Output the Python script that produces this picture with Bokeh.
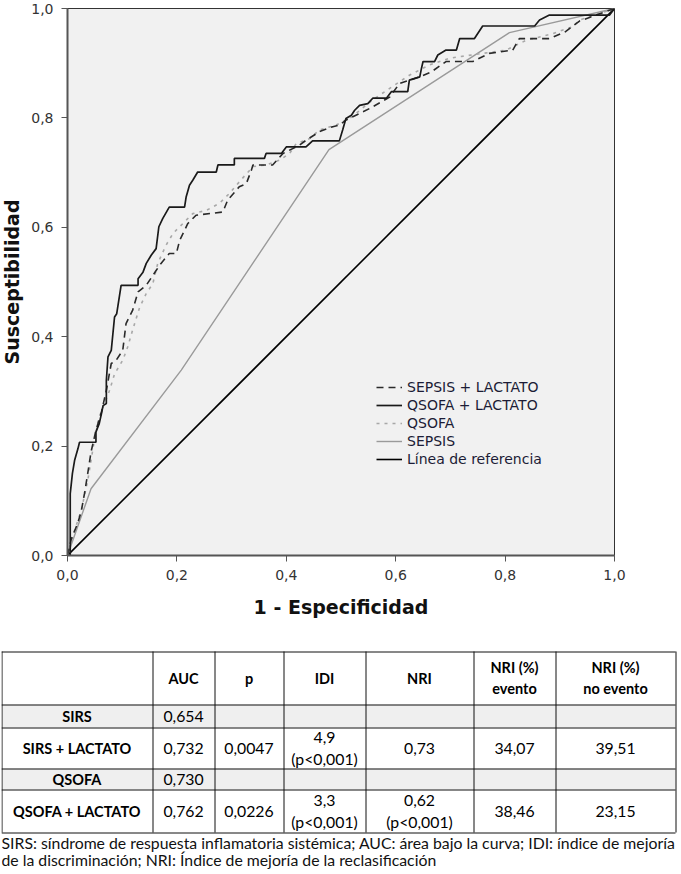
from bokeh.plotting import figure
from bokeh.models import Range1d, FixedTicker, CustomJSTickFormatter, Legend, LegendItem
from bokeh.embed import file_html
from bokeh.resources import INLINE
from bokeh.core.properties import value

# ---------------- ROC data (1 - especificidad, susceptibilidad) ----------------
qsofa_lact_x = [0, 0.005, 0.005, 0.009, 0.013, 0.019, 0.022, 0.052, 0.052, 0.058, 0.062, 0.065, 0.071, 0.071,
                0.074, 0.08, 0.086, 0.09, 0.098, 0.129, 0.129, 0.138, 0.144, 0.153, 0.162, 0.167, 0.174, 0.186,
                0.214, 0.217, 0.223, 0.229, 0.238, 0.272, 0.275, 0.305, 0.305, 0.36, 0.363, 0.391, 0.4, 0.436,
                0.448, 0.497, 0.503, 0.509, 0.519, 0.525, 0.534, 0.549, 0.558, 0.583, 0.592, 0.622, 0.625, 0.644,
                0.647, 0.65, 0.671, 0.677, 0.692, 0.711, 0.717, 0.744, 0.759, 0.854, 0.863, 0.881, 0.991, 1.0]
qsofa_lact_y = [0, 0, 0.113, 0.15, 0.174, 0.195, 0.207, 0.207, 0.226, 0.241, 0.259, 0.274, 0.278, 0.32,
                0.363, 0.375, 0.436, 0.442, 0.494, 0.494, 0.506, 0.518, 0.534, 0.549, 0.561, 0.601, 0.616, 0.637,
                0.637, 0.656, 0.677, 0.686, 0.701, 0.701, 0.714, 0.714, 0.726, 0.726, 0.735, 0.735, 0.747, 0.747,
                0.758, 0.758, 0.778, 0.799, 0.805, 0.814, 0.823, 0.826, 0.836, 0.836, 0.848, 0.848, 0.869, 0.875,
                0.89, 0.903, 0.903, 0.915, 0.924, 0.924, 0.945, 0.945, 0.968, 0.968, 0.979, 0.988, 0.988, 1.0]

sepsis_lact_x = [0, 0.007, 0.019, 0.025, 0.031, 0.037, 0.043, 0.052, 0.062, 0.071, 0.08, 0.089, 0.101, 0.107,
                 0.119, 0.129, 0.144, 0.162, 0.171, 0.186, 0.199, 0.205, 0.22, 0.235, 0.284, 0.293, 0.314, 0.327,
                 0.336, 0.339, 0.375, 0.394, 0.424, 0.436, 0.461, 0.485, 0.497, 0.509, 0.552, 0.589, 0.607, 0.644,
                 0.665, 0.692, 0.741, 0.771, 0.814, 0.826, 0.881, 0.911, 0.936, 1.0]
sepsis_lact_y = [0, 0.03, 0.06, 0.08, 0.113, 0.15, 0.189, 0.229, 0.262, 0.302, 0.351, 0.357, 0.375, 0.424,
                 0.448, 0.482, 0.494, 0.521, 0.534, 0.552, 0.552, 0.576, 0.607, 0.622, 0.628, 0.65, 0.674, 0.68,
                 0.704, 0.714, 0.714, 0.735, 0.75, 0.759, 0.775, 0.784, 0.787, 0.796, 0.817, 0.838, 0.863, 0.875,
                 0.884, 0.903, 0.903, 0.918, 0.924, 0.945, 0.945, 0.958, 0.977, 1.0]

qsofa_x = [0, 0.007, 0.016, 0.025, 0.037, 0.049, 0.058, 0.077, 0.086, 0.101, 0.11, 0.119, 0.132, 0.144, 0.156,
           0.165, 0.18, 0.193, 0.205, 0.229, 0.254, 0.278, 0.296, 0.314, 0.339, 0.363, 0.388, 0.406, 0.418,
           0.442, 0.461, 0.491, 0.516, 0.558, 0.589, 0.625, 0.662, 0.698, 0.759, 0.802, 0.839, 0.887, 0.924,
           0.936, 1.0]
qsofa_y = [0, 0.028, 0.055, 0.082, 0.137, 0.21, 0.253, 0.302, 0.332, 0.357, 0.381, 0.412, 0.454, 0.479, 0.497,
           0.534, 0.567, 0.589, 0.601, 0.625, 0.631, 0.644, 0.662, 0.683, 0.711, 0.714, 0.723, 0.735, 0.753,
           0.762, 0.778, 0.787, 0.799, 0.833, 0.854, 0.878, 0.897, 0.909, 0.918, 0.924, 0.942, 0.954, 0.967,
           0.979, 1.0]

sepsis_x = [0, 0.043, 0.208, 0.478, 0.808, 1.0]
sepsis_y = [0, 0.122, 0.339, 0.742, 0.956, 1.0]

ref_x = [0, 1]
ref_y = [0, 1]

ticks = [0.0, 0.2, 0.4, 0.6, 0.8, 1.0]

# ---------------- Table data ----------------
col_headers = ["AUC", "p", "IDI", "NRI", "NRI (%)\nevento", "NRI (%)\nno evento"]
row_labels = ["SIRS", "SIRS + LACTATO", "QSOFA", "QSOFA + LACTATO"]
auc = ["0,654", "0,732", "0,730", "0,762"]
p_vals = ["", "0,0047", "", "0,0226"]
idi = ["", "4,9\n(p<0,001)", "", "3,3\n(p<0,001)"]
nri = ["", "0,73", "", "0,62\n(p<0,001)"]
nri_evento = ["", "34,07", "", "38,46"]
nri_no_evento = ["", "39,51", "", "23,15"]
shaded_rows = [True, False, True, False]
footnote = ["SIRS: síndrome de respuesta inflamatoria sistémica; AUC: área bajo la curva; IDI: índice de mejoría",
            "de la discriminación; NRI: Índice de mejoría de la reclasificación"]

# ---------------- ROC chart ----------------
CH_FONT = "DejaVu Sans"
p = figure(frame_width=547, frame_height=547, x_range=Range1d(0, 1), y_range=Range1d(0, 1),
           output_backend="svg", toolbar_location=None,
           min_border_left=65, min_border_right=64, min_border_top=8, min_border_bottom=85,
           background_fill_color="#f1f1f1", border_fill_color="white", margin=(0, 0, 0, -2))
p.grid.visible = False
p.outline_line_color = "#333333"
p.outline_line_width = 1

for ax in (p.xaxis[0], p.yaxis[0]):
    ax.ticker = FixedTicker(ticks=ticks)
    ax.formatter = CustomJSTickFormatter(code="return tick.toFixed(1).replace('.', ',');")
    ax.minor_tick_line_color = None
    ax.major_tick_in = 0
    ax.major_tick_out = 6
    ax.major_tick_line_color = "#555555"
    ax.axis_line_color = "#555555"
    ax.axis_line_width = 2
    ax.major_label_text_font = CH_FONT
    ax.major_label_text_font_size = "14px"
    ax.major_label_text_color = "#333333"
    ax.axis_label_text_font = CH_FONT
    ax.axis_label_text_font_style = "bold"
    ax.axis_label_text_font_size = "19px"
    ax.axis_label_text_color = "#111111"

p.xaxis.axis_label = "1 - Especificidad"
p.yaxis.axis_label = "Susceptibilidad"
p.xaxis.major_label_standoff = 8
p.yaxis.major_label_standoff = 8
p.xaxis.axis_label_standoff = 13
p.yaxis.axis_label_standoff = 5

r_ref = p.line(ref_x, ref_y, line_color="#000000", line_width=1.6)
r_sep = p.line(sepsis_x, sepsis_y, line_color="#9a9a9a", line_width=1.4)
r_qs = p.line(qsofa_x, qsofa_y, line_color="#a8a8a8", line_width=1.6, line_dash="3 5")
r_sl = p.line(sepsis_lact_x, sepsis_lact_y, line_color="#2a2a2a", line_width=1.6, line_dash="7 5")
r_ql = p.line(qsofa_lact_x, qsofa_lact_y, line_color="#1a1a1a", line_width=1.7)

legend = Legend(items=[
    LegendItem(label="SEPSIS + LACTATO", renderers=[r_sl]),
    LegendItem(label="QSOFA + LACTATO", renderers=[r_ql]),
    LegendItem(label="QSOFA", renderers=[r_qs]),
    LegendItem(label="SEPSIS", renderers=[r_sep]),
    LegendItem(label="Línea de referencia", renderers=[r_ref]),
], location=(309, 87), orientation="vertical", border_line_alpha=0, background_fill_alpha=0,
    padding=0, margin=0, spacing=0, glyph_width=26, glyph_height=18, label_height=18, label_standoff=5,
    label_text_font=CH_FONT, label_text_font_size="14px", label_text_color="#1c1c36")
p.add_layout(legend)

# ---------------- Table ----------------
TB_FONT = "Lato"
TB_BOLD_SIZE = "14.5px"
TB_SIZE = "15.8px"
col_edges = [3, 154, 216, 285, 367, 475, 557, 677]
row_edges = [651, 704, 727, 768, 789, 832]
line_gap = 21
foot_y = [842, 859]

t = figure(width=676, height=230, x_range=Range1d(3, 679), y_range=Range1d(870, 640),
           output_backend="svg", toolbar_location=None, min_border=0,
           x_axis_type=None, y_axis_type=None, margin=(0, 0, 0, 1))
t.grid.visible = False
t.outline_line_color = None

# shaded rows
for i, sh in enumerate(shaded_rows):
    if sh:
        t.quad(left=col_edges[0], right=col_edges[-1], top=row_edges[i + 1], bottom=row_edges[i + 2],
               fill_color="#efefef", line_color=None)

# grid lines
t.segment(x0=[col_edges[0]] * len(row_edges), x1=[col_edges[-1]] * len(row_edges),
          y0=[y + 0.5 for y in row_edges], y1=[y + 0.5 for y in row_edges], line_color="#111111", line_width=1)
t.segment(x0=[x + 0.5 for x in col_edges], x1=[x + 0.5 for x in col_edges],
          y0=[row_edges[0]] * len(col_edges), y1=[row_edges[-1]] * len(col_edges), line_color="#111111", line_width=1)


def cell_text(label, ci, ri, bold):
    xc = (col_edges[ci] + col_edges[ci + 1]) / 2
    yc = (row_edges[ri] + row_edges[ri + 1]) / 2
    lines = label.split("\n")
    n = len(lines)
    ys = [yc + (k - (n - 1) / 2) * line_gap for k in range(n)]
    t.text(x=[xc] * n, y=ys, text=lines, text_align="center", text_baseline="middle",
           text_font=value(TB_FONT), text_font_size=TB_BOLD_SIZE if bold else TB_SIZE,
           text_color="#000000", text_font_style="bold" if bold else "normal")


for ci, h in enumerate(col_headers):
    cell_text(h, ci + 1, 0, True)

for ri, lab in enumerate(row_labels):
    cell_text(lab, 0, ri + 1, True)
    for ci, col in enumerate([auc, p_vals, idi, nri, nri_evento, nri_no_evento]):
        if col[ri]:
            cell_text(col[ri], ci + 1, ri + 1, False)

t.text(x=[3, 3], y=foot_y, text=footnote, text_align="left", text_baseline="middle",
       text_font=value(TB_FONT), text_font_size=TB_SIZE, text_color="#111111")

open("out.html", "w").write(file_html([p, t], INLINE))
